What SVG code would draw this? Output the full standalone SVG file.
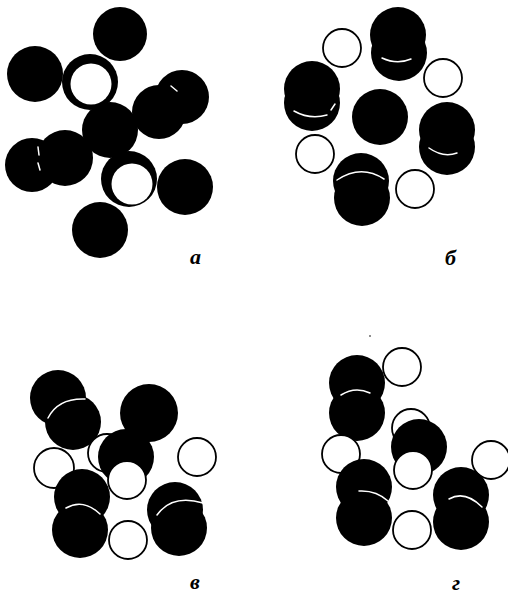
<svg xmlns="http://www.w3.org/2000/svg" width="508" height="595" viewBox="0 0 508 595">
<style>
.b{fill:#000}
.w{fill:#fff;stroke:#000;stroke-width:1.8}
.wi{fill:#fff}
.arc{fill:none;stroke:#fff;stroke-width:1.5;stroke-linecap:round}
.lbl{font-family:"Liberation Serif",serif;font-style:italic;font-weight:bold;font-size:22px;fill:#000}
</style>
<rect width="508" height="595" fill="#fff"/>
<g id="panel-a">
<circle class="b" cx="120" cy="34" r="27"/>
<circle class="b" cx="35" cy="74" r="28"/>
<circle class="b" cx="182" cy="97" r="27"/>
<circle class="b" cx="159" cy="112" r="27"/>
<circle class="b" cx="32" cy="165" r="27"/>
<circle class="b" cx="65" cy="158" r="28"/>
<circle class="b" cx="185" cy="187" r="28"/>
<circle class="b" cx="100" cy="230" r="28"/>
<circle class="b" cx="90" cy="82" r="28"/>
<circle class="wi" cx="91" cy="84" r="20.5"/>
<circle class="b" cx="110" cy="130" r="28"/>
<circle class="b" cx="129" cy="179" r="28"/>
<circle class="wi" cx="132" cy="184" r="20.5"/>
<path class="arc" d="M171,86 L177,91"/>
<path class="arc" d="M38,147 L39,155 M38,163 L40,170"/>
<text class="lbl" x="190" y="264">а</text>
</g>
<g id="panel-b">
<circle class="w" cx="342" cy="48" r="19"/>
<circle class="w" cx="443" cy="78" r="19"/>
<circle class="w" cx="315" cy="154" r="19"/>
<circle class="w" cx="415" cy="189" r="19"/>
<circle class="b" cx="398" cy="35" r="28"/>
<circle class="b" cx="399" cy="53" r="28"/>
<path class="arc" d="M382,58 Q397,65 411,59"/>
<circle class="b" cx="312" cy="89" r="28"/>
<circle class="b" cx="312" cy="103" r="28"/>
<path class="arc" d="M294,111 Q310,120 327,115 M331,110 L335,104"/>
<circle class="b" cx="380" cy="117" r="28"/>
<circle class="b" cx="447" cy="130" r="28"/>
<circle class="b" cx="447" cy="147" r="28"/>
<path class="arc" d="M429,148 Q443,158 457,153"/>
<circle class="b" cx="361" cy="181" r="28"/>
<circle class="b" cx="362" cy="198" r="28"/>
<path class="arc" d="M337,180 Q361,164 384,179"/>
<text class="lbl" x="445" y="265">б</text>
</g>
<g id="panel-c">
<circle class="b" cx="58" cy="398" r="28"/>
<circle class="b" cx="73" cy="422" r="28"/>
<path class="arc" d="M48,418 Q58,398 85,399"/>
<circle class="b" cx="149" cy="413" r="29"/>
<circle class="w" cx="107" cy="453" r="19"/>
<circle class="b" cx="126" cy="457" r="28"/>
<circle class="w" cx="54" cy="468" r="20"/>
<circle class="w" cx="127" cy="480" r="19"/>
<circle class="w" cx="197" cy="457" r="19"/>
<circle class="b" cx="82" cy="497" r="28"/>
<circle class="b" cx="80" cy="530" r="28"/>
<path class="arc" d="M66,508 Q83,498 100,514"/>
<circle class="w" cx="128" cy="540" r="19"/>
<circle class="b" cx="175" cy="510" r="28"/>
<circle class="b" cx="179" cy="528" r="28"/>
<path class="arc" d="M157,515 Q172,494 203,503"/>
<text class="lbl" x="190" y="589">в</text>
</g>
<g id="panel-d">
<circle cx="370" cy="336" r="0.8" fill="#000"/>
<circle class="w" cx="402" cy="367" r="19"/>
<circle class="b" cx="357" cy="383" r="28"/>
<circle class="b" cx="357" cy="413" r="28"/>
<path class="arc" d="M341,395 Q355,386 370,393"/>
<circle class="w" cx="341" cy="454" r="19"/>
<circle class="w" cx="411" cy="428" r="19"/>
<circle class="b" cx="419" cy="447" r="28"/>
<circle class="w" cx="413" cy="470" r="19"/>
<circle class="w" cx="491" cy="460" r="19"/>
<circle class="b" cx="364" cy="487" r="28"/>
<circle class="b" cx="364" cy="518" r="28"/>
<path class="arc" d="M359,491 Q376,490 388,501"/>
<circle class="w" cx="412" cy="530" r="19"/>
<circle class="b" cx="461" cy="495" r="28"/>
<circle class="b" cx="461" cy="522" r="28"/>
<path class="arc" d="M449,499 Q465,490 482,507"/>
<text class="lbl" x="452" y="590">г</text>
</g>
</svg>
